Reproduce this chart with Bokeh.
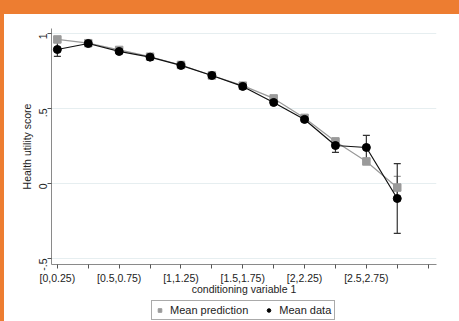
import math
from bokeh.plotting import figure
from bokeh.layouts import column
from bokeh.models import (FixedTicker, Legend, LegendItem, Whisker, ColumnDataSource,
                          GlobalInlineStyleSheet, TeeHead, Range1d)
from bokeh.embed import file_html
from bokeh.resources import INLINE

# ---- data ----
tick_labels = ["[0,0.25)", "", "[0.5,0.75)", "", "[1,1.25)", "", "[1.5,1.75)", "",
               "[2,2.25)", "", "[2.5,2.75)", "", ""]
x_idx = [0, 1, 2, 3, 4, 5, 6, 7, 8, 9, 10, 11]
mean_pred = [0.96, 0.935, 0.89, 0.845, 0.79, 0.72, 0.652, 0.567, 0.437, 0.28, 0.147, -0.027]
pred_lo = [0.955, 0.93, 0.885, 0.84, 0.785, 0.715, 0.647, 0.562, 0.432, 0.272, 0.14, -0.10]
pred_hi = [0.965, 0.94, 0.895, 0.85, 0.795, 0.725, 0.657, 0.572, 0.442, 0.288, 0.154, 0.047]
mean_data = [0.893, 0.933, 0.88, 0.842, 0.787, 0.72, 0.647, 0.54, 0.427, 0.253, 0.24, -0.10]
data_lo = [0.847, 0.92, 0.87, 0.835, 0.78, 0.713, 0.64, 0.53, 0.415, 0.207, 0.16, -0.333]
data_hi = [0.94, 0.946, 0.89, 0.85, 0.795, 0.727, 0.655, 0.55, 0.44, 0.30, 0.32, 0.133]
y_ticks = [-0.5, 0, 0.5, 1]
y_tick_labels = ["-.5", "0", ".5", "1"]
series_names = ["Mean prediction", "Mean data"]

FONT = "Liberation Sans"
TXT = "#222222"
GRAY = "#9a9a9a"
ORANGE = "#ED7D31"

src = ColumnDataSource(dict(x=x_idx, pred=mean_pred, plo=pred_lo, phi=pred_hi,
                            data=mean_data, dlo=data_lo, dhi=data_hi))

css = GlobalInlineStyleSheet(css=(
    "html,body{margin:0;padding:0;}"
    "body{padding:14px 0 0 4px;background-color:white;"
    f"background-image:linear-gradient({ORANGE},{ORANGE}),linear-gradient({ORANGE},{ORANGE});"
    "background-size:100% 14px,4px 100%;background-position:0 0,0 0;background-repeat:no-repeat;}"))

chart = figure(width=455, height=284, x_range=(-0.19, 12.27), y_range=(-0.54, 1.033),
               output_backend="svg", toolbar_location=None,
               min_border_left=47, min_border_right=23, min_border_top=14, min_border_bottom=34,
               border_fill_color="white", background_fill_color="white",
               stylesheets=[css])
chart.outline_line_color = None

# axes
chart.xaxis.ticker = FixedTicker(ticks=list(range(len(tick_labels))))
chart.xaxis.major_label_overrides = {i: s for i, s in enumerate(tick_labels)}
chart.yaxis.ticker = FixedTicker(ticks=y_ticks)
chart.yaxis.major_label_overrides = {t: s for t, s in zip(y_ticks, y_tick_labels)}
chart.yaxis.major_label_orientation = math.pi / 2
chart.xaxis.axis_label = "conditioning variable 1"
chart.yaxis.axis_label = "Health utility score"
for ax in (chart.xaxis, chart.yaxis):
    ax.axis_line_color = "#8a8a8a"
    ax.major_tick_line_color = "#555555"
    ax.minor_tick_line_color = None
    ax.major_tick_out = 4
    ax.major_tick_in = 0
    ax.major_label_text_font = FONT
    ax.major_label_text_font_size = "10.5px"
    ax.major_label_text_color = TXT
    ax.axis_label_text_font = FONT
    ax.axis_label_text_font_size = "10.5px"
    ax.axis_label_text_font_style = "normal"
    ax.axis_label_text_color = TXT
chart.xaxis.major_label_standoff = 3
chart.xaxis.axis_label_standoff = -4
chart.yaxis.major_label_standoff = 4
chart.yaxis.axis_label_standoff = 0

chart.xgrid.grid_line_color = None
chart.ygrid.ticker = FixedTicker(ticks=y_ticks)
chart.ygrid.grid_line_color = "#E6EEF0"

# prediction series
chart.line("x", "pred", source=src, line_color=GRAY, line_width=1.2)
chart.add_layout(Whisker(base="x", lower="plo", upper="phi", source=src, dimension="height",
                         line_color=GRAY, line_width=1.2,
                         lower_head=TeeHead(size=7, line_color=GRAY, line_width=1.2),
                         upper_head=TeeHead(size=7, line_color=GRAY, line_width=1.2)))
chart.scatter("x", "pred", source=src, marker="square", size=7.5,
              fill_color=GRAY, line_color=GRAY)

# data series
chart.line("x", "data", source=src, line_color="#111111", line_width=1.2)
chart.add_layout(Whisker(base="x", lower="dlo", upper="dhi", source=src, dimension="height",
                         line_color="#333333", line_width=1.2,
                         lower_head=TeeHead(size=7, line_color="#333333", line_width=1.2),
                         upper_head=TeeHead(size=7, line_color="#333333", line_width=1.2)))
chart.scatter("x", "data", source=src, marker="circle", size=8,
              fill_color="black", line_color="black")

# legend strip: a small figure under the chart (its frame aligns with the chart's frame);
# its x range lies outside the data, so only the legend itself is visible there
leg = figure(width=455, height=23, x_range=Range1d(-3, -2), y_range=Range1d(0, 1),
             x_axis_type=None, y_axis_type=None, output_backend="svg", toolbar_location=None,
             min_border_left=47, min_border_right=23, min_border_top=0, min_border_bottom=0,
             border_fill_color="white", background_fill_color="white")
leg.outline_line_color = None
leg.grid.visible = False
lr_pred = leg.scatter("x", "pred", source=src, marker="square", size=6.5,
                      fill_color=GRAY, line_color=GRAY)
lr_data = leg.scatter("x", "data", source=src, marker="circle", size=6.5,
                      fill_color="black", line_color="black")
legend = Legend(items=[LegendItem(label=series_names[0], renderers=[lr_pred]),
                       LegendItem(label=series_names[1], renderers=[lr_data])],
                orientation="horizontal", location=(100, 1),
                border_line_color="#555555", border_line_width=1,
                padding=3, margin=0, spacing=16, label_standoff=6,
                glyph_width=9, glyph_height=12,
                label_text_font=FONT, label_text_font_size="11px", label_text_color=TXT,
                background_fill_color="white")
leg.add_layout(legend, "center")

p = column(chart, leg, spacing=0)

open("out.html", "w").write(file_html(p, INLINE))
